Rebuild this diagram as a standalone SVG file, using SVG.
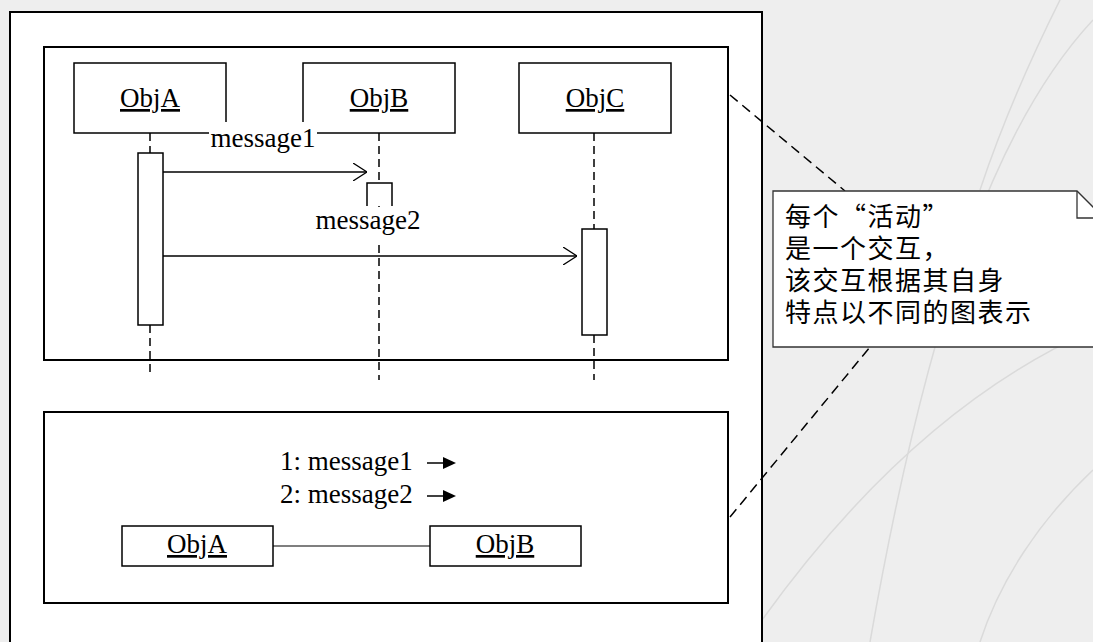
<svg xmlns="http://www.w3.org/2000/svg" width="1093" height="642" viewBox="0 0 1093 642">
<style>
.frame{fill:#fff;stroke:#000;stroke-width:2}
.box{fill:#fff;stroke:#000;stroke-width:1.5}
.life{fill:none;stroke:#000;stroke-width:1.5;stroke-dasharray:8,5}
.msg{fill:none;stroke:#000;stroke-width:1.3}
.t{font-family:"Liberation Serif","Times New Roman",serif;font-size:27px;fill:#000}
.u{text-decoration:underline}
.cjk{font-family:"Noto Sans CJK SC","Noto Sans CJK JP",sans-serif;font-size:26px;letter-spacing:1.5px;fill:#000}
.note-link{fill:none;stroke:#000;stroke-width:1.5;stroke-dasharray:10,6}
.bg-curve{fill:none;stroke:#dadada;stroke-width:1.5}
</style>
<defs>
<marker id="open" viewBox="0 0 14 18" refX="14" refY="9" markerWidth="14" markerHeight="18" markerUnits="userSpaceOnUse" orient="auto">
<path d="M0,0 L14,9 L0,18" fill="none" stroke="#000" stroke-width="1.3"/>
</marker>
</defs>
<g id="background">
<rect x="0" y="0" width="1093" height="642" fill="#eeeeee"/>
<path class="bg-curve" d="M1093,20 C1000,120 930,300 870,642"/>
<path class="bg-curve" d="M1093,330 C980,380 870,470 762,620"/>
<path class="bg-curve" d="M1060,0 C1030,60 1000,130 980,190"/>
<path class="bg-curve" d="M1093,470 C1040,520 1000,580 980,642"/>
</g>
<g id="outer-frame"><rect x="10" y="12" width="752" height="640" fill="#fff" stroke="#000" stroke-width="2"/></g>
<g id="sequence-panel"><rect class="frame" x="44" y="47" width="684" height="313"/></g>
<g id="collaboration-panel"><rect class="frame" x="44" y="412" width="684" height="191"/></g>
<g id="connectors">
<path class="life" d="M150,133 V153 M150,325 V372"/>
<path class="life" d="M379,133 V183 M379,206 V380"/>
<path class="life" d="M594,133 V229 M594,335 V380"/>
<line class="msg" x1="163" y1="172" x2="367" y2="172" marker-end="url(#open)"/>
<line class="msg" x1="163" y1="256" x2="577" y2="256" marker-end="url(#open)"/>
<line x1="273" y1="546" x2="430" y2="546" stroke="#555" stroke-width="1.5"/>
<line x1="427" y1="463" x2="445" y2="463" stroke="#000" stroke-width="1.5"/>
<path d="M443,457 L456,463 L443,469 Z" fill="#000"/>
<line x1="427" y1="496" x2="445" y2="496" stroke="#000" stroke-width="1.5"/>
<path d="M443,490 L456,496 L443,502 Z" fill="#000"/>
<line class="note-link" x1="730" y1="95" x2="845" y2="191"/>
<line class="note-link" x1="730" y1="517" x2="870" y2="347"/>
</g>
<g id="objA"><rect class="box" x="74" y="63" width="152" height="70"/><text class="t u" x="150" y="107" text-anchor="middle">ObjA</text></g>
<g id="objB"><rect class="box" x="303" y="63" width="152" height="70"/><text class="t u" x="379" y="107" text-anchor="middle">ObjB</text></g>
<g id="objC"><rect class="box" x="519" y="63" width="152" height="70"/><text class="t u" x="595" y="107" text-anchor="middle">ObjC</text></g>
<g id="activationA"><rect class="box" x="138" y="153" width="25" height="172"/></g>
<g id="activationB"><path d="M367,206 V183 H392 V206" fill="#fff" stroke="#000" stroke-width="1.5"/></g>
<g id="activationC"><rect class="box" x="582" y="229" width="25" height="106"/></g>
<g id="label-message1"><rect x="209" y="122" width="108" height="28" fill="#fff"/><text class="t" x="263" y="147" text-anchor="middle">message1</text></g>
<g id="label-message2"><rect x="313" y="207" width="110" height="34" fill="#fff"/><text class="t" x="368" y="229" text-anchor="middle">message2</text></g>
<g id="collab-messages"><text class="t" x="280" y="470">1: message1</text><text class="t" x="280" y="503">2: message2</text></g>
<g id="objA2"><rect class="box" x="122" y="526" width="151" height="40"/><text class="t u" x="197" y="553" text-anchor="middle">ObjA</text></g>
<g id="objB2"><rect class="box" x="430" y="526" width="151" height="40"/><text class="t u" x="505" y="553" text-anchor="middle">ObjB</text></g>
<g id="note">
<path d="M773,191 H1077 L1104,218 V347 H773 Z" fill="#fff" stroke="#333" stroke-width="1.3"/>
<path d="M1077,191 V218 H1104" fill="none" stroke="#333" stroke-width="1.3"/>
<text class="cjk" x="785" y="226">每个“活动”</text>
<text class="cjk" x="785" y="258">是一个交互，</text>
<text class="cjk" x="785" y="290">该交互根据其自身</text>
<text class="cjk" x="785" y="322">特点以不同的图表示</text>
</g>
</svg>
